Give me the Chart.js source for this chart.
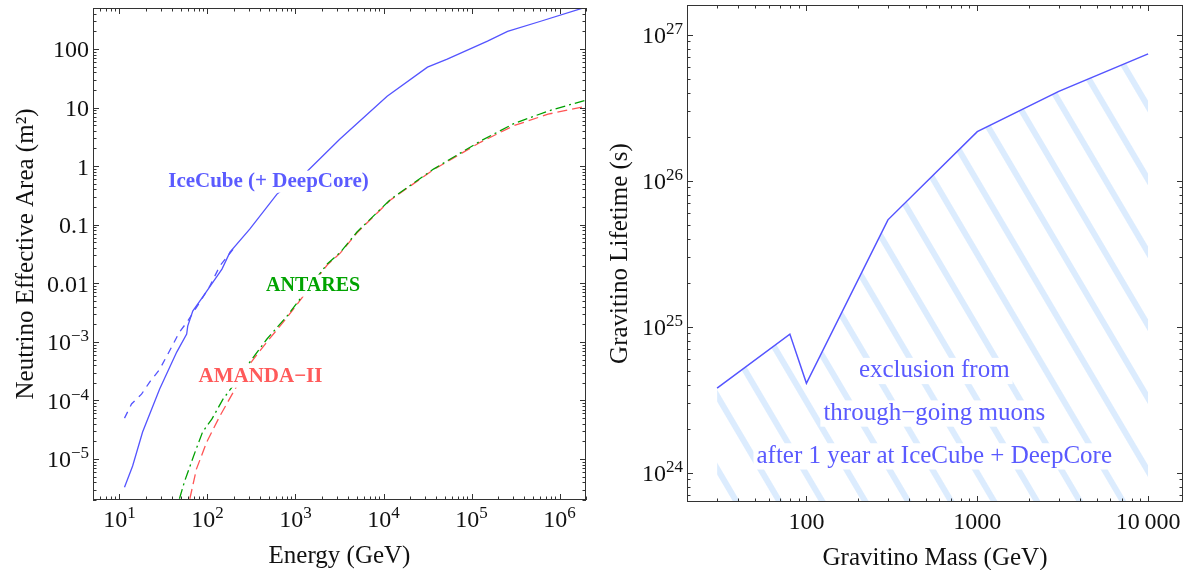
<!DOCTYPE html>
<html>
<head>
<meta charset="utf-8">
<script src="https://cdn.jsdelivr.net/npm/chart.js"></script>
<style>
    body { margin: 0; background: #fff; }
    #wrap { position: relative; width: 1195px; height: 570px; }
    canvas { position: absolute; top: 0; }
</style>
</head>
<body>
<div id="wrap">
    <canvas id="areaChart" width="597" height="570" style="left:0"></canvas>
    <canvas id="lifeChart" width="598" height="570" style="left:597px"></canvas>
</div>
<script>
// Left panel: neutrino effective areas (GeV, m^2)
const iceEnergy = [11.4, 14.1, 18.3, 28.6, 44.7, 58, 59.6, 68, 88, 146, 180, 302, 616, 1360, 3200, 11000, 31600, 53000, 152000, 257000, 611000, 2000000];
const iceArea = [3.3e-6, 7.6e-6, 2.9e-5, 1.57e-4, 6.7e-4, 1.36e-3, 1.86e-3, 3.36e-3, 5.8e-3, 0.0175, 0.034, 0.084, 0.333, 0.82, 2.9, 15.6, 49, 67, 136, 200, 297, 518];

const iceNoDcEnergy = [11.4, 13.7, 17.8, 22, 28.6, 39, 48, 59.6, 82, 106, 138, 195];
const iceNoDcArea = [5.0e-5, 8.7e-5, 1.28e-4, 2.06e-4, 3.4e-4, 8.1e-4, 1.47e-3, 2.26e-3, 4.8e-3, 8.9e-3, 0.0197, 0.038];

const antaresEnergy = [48, 55, 72, 88, 112, 150, 195, 302, 474, 800, 1220, 2290, 3240, 5000, 12000, 37000, 126000, 302000, 740000, 2000000];
const antaresArea = [2.1e-6, 4.2e-6, 1.3e-5, 2.9e-5, 4.8e-5, 1.05e-4, 1.78e-4, 4.5e-4, 1.12e-3, 2.75e-3, 6.3e-3, 0.0213, 0.034, 0.075, 0.27, 0.89, 2.67, 5.3, 8.7, 13.4];

const amandaEnergy = [63, 75, 98, 138, 216, 302, 474, 800, 1220, 2290, 3240, 5000, 12000, 37000, 126000, 302000, 740000, 2000000];
const amandaArea = [2.1e-6, 6.8e-6, 1.95e-5, 5.4e-5, 1.78e-4, 4.2e-4, 1.0e-3, 2.6e-3, 6.0e-3, 0.0205, 0.033, 0.073, 0.265, 0.87, 2.55, 4.9, 7.7, 10.5];

// Right panel: gravitino lifetime bound
const gravitinoMass = [30, 80, 100, 300, 1000, 3000, 10000];
const gravitinoLifetime = [3.8e24, 8.9e24, 4.1e24, 5.4e25, 2.17e26, 4.1e26, 7.4e26];

// Tick labels
const areaXTicks = [10, 100, 1e3, 1e4, 1e5, 1e6];
const areaXLabels = ['10^1', '10^2', '10^3', '10^4', '10^5', '10^6'];
const areaYTicks = [100, 10, 1, 0.1, 0.01, 1e-3, 1e-4, 1e-5];
const areaYLabels = ['100', '10', '1', '0.1', '0.01', '10^\u22123', '10^\u22124', '10^\u22125'];
const lifeXTicks = [100, 1000, 10000];
const lifeXLabels = ['100', '1000', '10\u2009000'];
const lifeYTicks = [1e24, 1e25, 1e26, 1e27];
const lifeYLabels = ['10^24', '10^25', '10^26', '10^27'];

const serif = '"Liberation Serif", "Times New Roman", serif';
const toPoints = (xs, ys) => xs.map((x, i) => ({ x: x, y: ys[i] }));

// all 1..9 x 10^n positions inside the range
function logTicks(min, max) {
    const out = [];
    for (let d = Math.floor(Math.log10(min)); d <= Math.ceil(Math.log10(max)); d++) {
        for (let m = 1; m <= 9; m++) {
            const v = m * Math.pow(10, d);
            if (v >= min * 0.999 && v <= max * 1.001) out.push({ v: v, major: m === 1 });
        }
    }
    return out;
}

// draws "10^-3" style labels, align = left | center | right
function drawTickLabel(ctx, text, x, y, align, size) {
    const parts = text.split('^');
    const expSize = Math.round(size * 0.72);
    ctx.font = size + 'px ' + serif;
    const bw = ctx.measureText(parts[0]).width;
    let ew = 0;
    if (parts[1]) {
        ctx.font = expSize + 'px ' + serif;
        ew = ctx.measureText(parts[1]).width;
    }
    const total = bw + ew;
    let x0 = x;
    if (align === 'right') x0 = x - total;
    if (align === 'center') x0 = x - total / 2;
    ctx.textAlign = 'left';
    ctx.textBaseline = 'alphabetic';
    ctx.font = size + 'px ' + serif;
    ctx.fillText(parts[0], x0, y);
    if (parts[1]) {
        ctx.font = expSize + 'px ' + serif;
        ctx.fillText(parts[1], x0 + bw, y - 9);
    }
}

const frameAxes = {
    id: 'frameAxes',
    afterDatasetsDraw(chart, args, opts) {
        const ctx = chart.ctx;
        (opts.notes || []).forEach(n => {
            const x = chart.scales.x.getPixelForValue(n.x);
            const y = chart.scales.y.getPixelForValue(n.y);
            ctx.save();
            ctx.font = n.font;
            const w = ctx.measureText(n.text).width;
            ctx.fillStyle = '#fff';
            ctx.fillRect(x - w / 2 - 3, y - n.size * 0.78, w + 6, n.size * 1.05);
            ctx.fillStyle = n.color;
            ctx.textAlign = 'center';
            ctx.textBaseline = 'alphabetic';
            ctx.fillText(n.text, x, y);
            ctx.restore();
        });
    },
    afterDraw(chart, args, opts) {
        const ctx = chart.ctx;
        const xs = chart.scales.x, ys = chart.scales.y;
        const left = Math.round(chart.chartArea.left), right = Math.round(chart.chartArea.right);
        const top = Math.round(chart.chartArea.top), bottom = Math.round(chart.chartArea.bottom);
        ctx.save();
        ctx.strokeStyle = '#333';
        ctx.lineWidth = 1;
        ctx.strokeRect(left + 0.5, top + 0.5, right - left - 1, bottom - top - 1);

        ctx.beginPath();
        logTicks(xs.min, xs.max).forEach(t => {
            const len = t.major ? 6 : 3.5;
            const px = Math.round(xs.getPixelForValue(t.v)) + 0.5;
            ctx.moveTo(px, bottom); ctx.lineTo(px, bottom - len);
            ctx.moveTo(px, top); ctx.lineTo(px, top + len);
        });
        logTicks(ys.min, ys.max).forEach(t => {
            const len = t.major ? 6 : 3.5;
            const py = Math.round(ys.getPixelForValue(t.v)) + 0.5;
            ctx.moveTo(left, py); ctx.lineTo(left + len, py);
            ctx.moveTo(right, py); ctx.lineTo(right - len, py);
        });
        ctx.stroke();

        ctx.fillStyle = '#111';
        opts.xTicks.forEach((v, i) => {
            drawTickLabel(ctx, opts.xLabels[i], xs.getPixelForValue(v), bottom + 27, 'center', 24);
        });
        opts.yTicks.forEach((v, i) => {
            drawTickLabel(ctx, opts.yLabels[i], left - 4, ys.getPixelForValue(v) + 8.4, 'right', 24);
        });

        // axis titles
        ctx.font = '25px ' + serif;
        ctx.textAlign = 'center';
        ctx.textBaseline = 'alphabetic';
        ctx.fillText(opts.xTitle, (left + right) / 2, bottom + 63);
        ctx.translate(left - 60, (top + bottom) / 2);
        ctx.rotate(-Math.PI / 2);
        ctx.fillText(opts.yTitle, 0, 0);
        ctx.restore();
    }
};

// Neutrino effective area chart
new Chart(document.getElementById('areaChart'), {
    type: 'line',
    data: {
        datasets: [{
            label: 'IceCube (+ DeepCore)',
            data: toPoints(iceEnergy, iceArea),
            borderColor: '#5454ff',
            borderWidth: 1.3
        }, {
            label: 'IceCube',
            data: toPoints(iceNoDcEnergy, iceNoDcArea),
            borderColor: '#5454ff',
            borderWidth: 1.3,
            borderDash: [7, 6]
        }, {
            label: 'ANTARES',
            data: toPoints(antaresEnergy, antaresArea),
            borderColor: '#00a000',
            borderWidth: 1.3,
            borderDash: [10, 4, 2, 4]
        }, {
            label: 'AMANDA-II',
            data: toPoints(amandaEnergy, amandaArea),
            borderColor: '#ff5555',
            borderWidth: 1.3,
            borderDash: [10, 5]
        }]
    },
    options: {
        responsive: false,
        animation: false,
        layout: { padding: { left: 93, top: 8, right: 11, bottom: 70 } },
        elements: { point: { radius: 0 }, line: { tension: 0, fill: false } },
        scales: {
            x: { type: 'logarithmic', min: 5, max: 2e6, display: false },
            y: { type: 'logarithmic', min: 2e-6, max: 500, display: false }
        },
        plugins: {
            legend: { display: false },
            tooltip: { enabled: false },
            frameAxes: {
                xTicks: areaXTicks, xLabels: areaXLabels,
                yTicks: areaYTicks, yLabels: areaYLabels,
                xTitle: 'Energy (GeV)',
                yTitle: 'Neutrino Effective Area (m\u00b2)',
                notes: [
                    { text: 'IceCube (+ DeepCore)', x: 493, y: 0.44, size: 21, font: 'bold 21px ' + serif, color: '#5b5bff' },
                    { text: 'ANTARES', x: 1585, y: 7.4e-3, size: 21, font: 'bold 20px ' + serif, color: '#00a300' },
                    { text: 'AMANDA\u2212II', x: 400, y: 2.06e-4, size: 21, font: 'bold 21px ' + serif, color: '#ff5a5a' }
                ]
            }
        }
    },
    plugins: [frameAxes]
});

// Gravitino lifetime chart with hatched exclusion region
const lifeCanvas = document.getElementById('lifeChart');
function makeHatch(ctx) {
    const tile = document.createElement('canvas');
    tile.width = 37;
    tile.height = 4;
    const t = tile.getContext('2d');
    t.fillStyle = '#dcecfe';
    t.fillRect(0, 0, 3, 4);
    t.fillRect(34, 0, 3, 4);
    const p = ctx.createPattern(tile, 'repeat');
    p.setTransform(new DOMMatrix().translate(366, 157).rotate(-30.5));
    return p;
}

new Chart(lifeCanvas, {
    type: 'line',
    data: {
        datasets: [{
            label: 'exclusion',
            data: toPoints(gravitinoMass, gravitinoLifetime),
            borderColor: '#5454ff',
            borderWidth: 1.5,
            backgroundColor: makeHatch(lifeCanvas.getContext('2d')),
            fill: 'start'
        }]
    },
    options: {
        responsive: false,
        animation: false,
        layout: { padding: { left: 90, top: 5, right: 12, bottom: 68 } },
        elements: { point: { radius: 0 }, line: { tension: 0 } },
        scales: {
            x: { type: 'logarithmic', min: 20, max: 16000, display: false },
            y: { type: 'logarithmic', min: 6.3e23, max: 1.6e27, display: false }
        },
        plugins: {
            legend: { display: false },
            tooltip: { enabled: false },
            frameAxes: {
                xTicks: lifeXTicks, xLabels: lifeXLabels,
                yTicks: lifeYTicks, yLabels: lifeYLabels,
                xTitle: 'Gravitino Mass (GeV)',
                yTitle: 'Gravitino Lifetime (s)',
                notes: [
                    { text: 'exclusion from', x: 560, y: 4.5e24, size: 25, font: '25px ' + serif, color: '#5a5aff' },
                    { text: 'through\u2212going muons', x: 560, y: 2.3e24, size: 25, font: '25px ' + serif, color: '#5a5aff' },
                    { text: 'after 1 year at IceCube + DeepCore', x: 560, y: 1.17e24, size: 25, font: '25px ' + serif, color: '#5a5aff' }
                ]
            }
        }
    },
    plugins: [frameAxes]
});
</script>
</body>
</html>
